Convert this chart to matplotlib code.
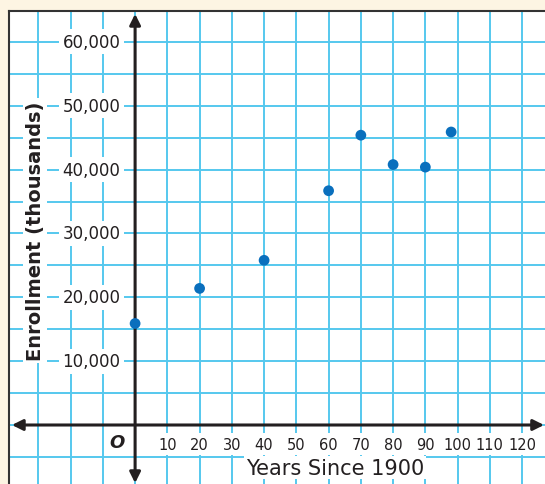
import matplotlib.pyplot as plt
import numpy as np

# data
years = [0, 20, 40, 60, 70, 80, 90, 98]
enrollment = [15900, 21400, 25800, 36700, 45400, 40800, 40400, 45900]

x_ticks = [10, 20, 30, 40, 50, 60, 70, 80, 90, 100, 110, 120]
y_ticks = [10000, 20000, 30000, 40000, 50000, 60000]
y_tick_labels = ['10,000', '20,000', '30,000', '40,000', '50,000', '60,000']

grid_col = '#55c8ee'
dot_col = '#0a6fbd'
ink = '#231f20'
paper = '#fdf5e3'

fig = plt.figure(figsize=(5.45, 4.85), dpi=100, facecolor=paper)
ax = fig.add_axes([9 / 545, 0, 1 - 9 / 545, 473 / 485])
ax.set_facecolor('white')

xmin, xmax = -39.1, 127.1
ymin, ymax = -9243, 64856
ax.set_xlim(xmin, xmax)
ax.set_ylim(ymin, ymax)

for s in ['right', 'bottom']:
    ax.spines[s].set_visible(False)
for s in ['top', 'left']:
    ax.spines[s].set_color('#333333')
    ax.spines[s].set_linewidth(1.5)
ax.set_xticks([])
ax.set_yticks([])

# grid
for gx in np.arange(-30, 131, 10):
    ax.axvline(gx, color=grid_col, lw=1.4, zorder=1)
for gy in np.arange(-5000, 65001, 5000):
    ax.axhline(gy, color=grid_col, lw=1.4, zorder=1)

# axes with arrows
arrow = dict(arrowstyle='-|>', color=ink, lw=2.2, mutation_scale=16, shrinkA=0, shrinkB=0)
ax.annotate('', xy=(0, 64400), xytext=(0, 0), arrowprops=arrow, zorder=4)
ax.annotate('', xy=(0, -9100), xytext=(0, 0), arrowprops=arrow, zorder=4)
ax.annotate('', xy=(126.8, 0), xytext=(0, 0), arrowprops=arrow, zorder=4)
ax.annotate('', xy=(-38.2, 0), xytext=(0, 0), arrowprops=arrow, zorder=4)

box = dict(facecolor='white', edgecolor='none', pad=2.5)

for t in x_ticks:
    ax.text(t, -3000, str(t), ha='center', va='center', fontsize=10.5,
            color=ink, bbox=box, zorder=3)
for v, lab in zip(y_ticks, y_tick_labels):
    ax.text(-4.6, v, lab, ha='right', va='center', fontsize=12,
            color=ink, bbox=box, zorder=3)

ax.text(-5.5, -2700, 'O', ha='center', va='center', fontsize=13,
        fontweight='bold', fontstyle='italic', color=ink, zorder=3)

ax.text(62, -6700, 'Years Since 1900', ha='center', va='center', fontsize=15,
        color=ink, bbox=dict(facecolor='white', edgecolor='none', pad=1), zorder=3)
ax.text(-31, 30500, 'Enrollment (thousands)', rotation=90, ha='center', va='center',
        fontsize=14, fontweight='bold', color=ink,
        bbox=dict(facecolor='white', edgecolor='none', pad=2), zorder=3)

ax.scatter(years, enrollment, s=60, color=dot_col, zorder=5, edgecolors='none')

fig.savefig('out.png', dpi=100, facecolor=paper)
